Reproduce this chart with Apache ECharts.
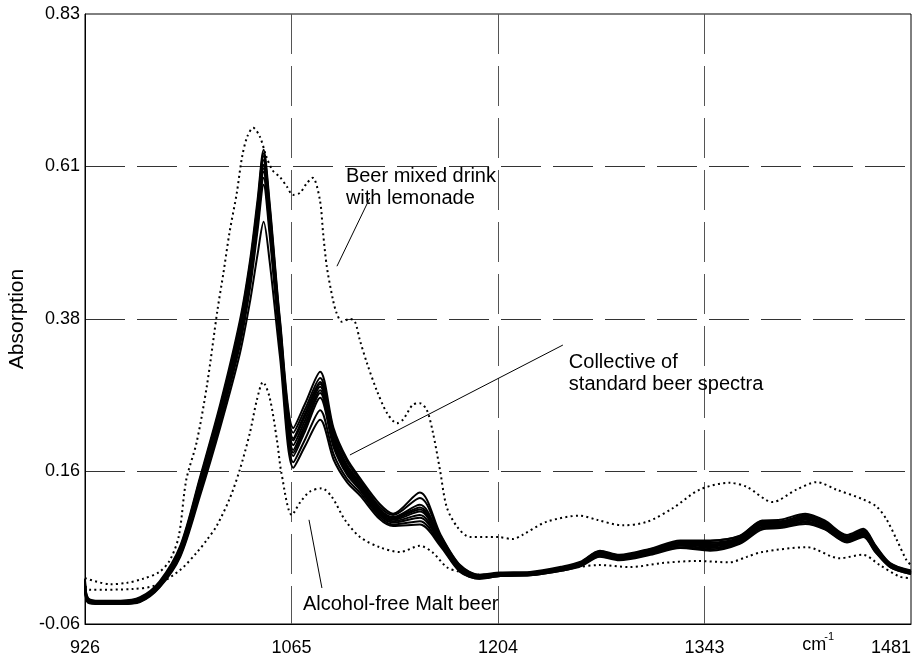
<!DOCTYPE html>
<html>
<head>
<meta charset="utf-8">
<script src="https://cdn.jsdelivr.net/npm/echarts@6/dist/echarts.min.js"></script>
<style>
  html, body { margin: 0; padding: 0; background: #fff; }
  #chart { width: 912px; height: 655px; }
</style>
</head>
<body>
<div id="chart"></div>
<script>
// tick labels (printed labels, evenly spaced along each axis)
const xTickLabels = ['926', '1065', '1204', '1343', '1481'];
const yTickLabels = ['-0.06', '0.16', '0.38', '0.61', '0.83'];

// wavenumbers (cm-1) shared by the standard beer spectra
const standardWavenumbers = [926, 928, 936, 950, 963, 976, 990, 1003, 1017, 1030, 1037, 1042, 1046, 1050,
  1057, 1066, 1074, 1084, 1093, 1102, 1111, 1124, 1133, 1151, 1165, 1178, 1191, 1205, 1225, 1247,
  1259, 1272, 1285, 1306, 1326, 1346, 1366, 1381, 1393, 1410, 1423, 1438, 1449, 1457, 1467, 1481];

// collective of standard beer spectra (absorption)
const beer1 = [0.006, -0.022, -0.026, -0.026, -0.021, 0.002, 0.054, 0.152, 0.262, 0.382, 0.472, 0.560, 0.632, 0.556, 0.384, 0.226, 0.262, 0.308, 0.226, 0.181, 0.152, 0.115, 0.101, 0.132, 0.070, 0.026, 0.012, 0.015, 0.016, 0.024, 0.031, 0.047, 0.041, 0.050, 0.062, 0.062, 0.069, 0.091, 0.092, 0.101, 0.091, 0.070, 0.079, 0.055, 0.029, 0.018];
const beer2 = [0.004, -0.023, -0.027, -0.027, -0.022, 0.000, 0.052, 0.149, 0.258, 0.377, 0.467, 0.553, 0.627, 0.550, 0.380, 0.219, 0.254, 0.299, 0.221, 0.177, 0.149, 0.111, 0.099, 0.124, 0.068, 0.025, 0.011, 0.014, 0.015, 0.023, 0.030, 0.046, 0.040, 0.049, 0.060, 0.061, 0.068, 0.090, 0.090, 0.099, 0.089, 0.068, 0.077, 0.054, 0.028, 0.017];
const beer3 = [0.002, -0.024, -0.027, -0.028, -0.023, -0.001, 0.050, 0.147, 0.256, 0.373, 0.462, 0.549, 0.623, 0.545, 0.375, 0.211, 0.248, 0.293, 0.216, 0.172, 0.146, 0.108, 0.096, 0.114, 0.066, 0.023, 0.010, 0.013, 0.014, 0.022, 0.029, 0.045, 0.039, 0.048, 0.059, 0.059, 0.066, 0.088, 0.088, 0.097, 0.087, 0.066, 0.075, 0.052, 0.027, 0.016];
const beer4 = [0.000, -0.025, -0.028, -0.028, -0.024, -0.002, 0.048, 0.145, 0.253, 0.370, 0.459, 0.546, 0.617, 0.540, 0.372, 0.208, 0.244, 0.290, 0.213, 0.170, 0.144, 0.106, 0.095, 0.110, 0.064, 0.022, 0.009, 0.013, 0.014, 0.022, 0.029, 0.044, 0.038, 0.047, 0.058, 0.058, 0.065, 0.087, 0.087, 0.096, 0.086, 0.065, 0.074, 0.051, 0.026, 0.016];
const beer5 = [-0.003, -0.025, -0.028, -0.029, -0.024, -0.002, 0.047, 0.142, 0.250, 0.366, 0.455, 0.541, 0.610, 0.535, 0.368, 0.201, 0.238, 0.286, 0.210, 0.167, 0.142, 0.105, 0.094, 0.107, 0.062, 0.021, 0.009, 0.012, 0.013, 0.021, 0.028, 0.043, 0.037, 0.046, 0.057, 0.056, 0.064, 0.086, 0.086, 0.095, 0.085, 0.064, 0.073, 0.050, 0.026, 0.015];
const beer6 = [-0.004, -0.026, -0.029, -0.029, -0.025, -0.003, 0.045, 0.139, 0.247, 0.362, 0.450, 0.536, 0.605, 0.530, 0.364, 0.194, 0.232, 0.281, 0.206, 0.164, 0.140, 0.103, 0.092, 0.104, 0.061, 0.020, 0.008, 0.012, 0.013, 0.021, 0.027, 0.042, 0.037, 0.045, 0.056, 0.055, 0.063, 0.085, 0.085, 0.094, 0.084, 0.063, 0.072, 0.049, 0.025, 0.015];
const beer7 = [-0.005, -0.026, -0.029, -0.030, -0.025, -0.004, 0.044, 0.137, 0.244, 0.358, 0.446, 0.531, 0.600, 0.525, 0.360, 0.190, 0.227, 0.277, 0.202, 0.161, 0.138, 0.101, 0.090, 0.099, 0.059, 0.019, 0.008, 0.011, 0.012, 0.020, 0.027, 0.041, 0.036, 0.044, 0.055, 0.053, 0.062, 0.084, 0.084, 0.092, 0.083, 0.062, 0.071, 0.048, 0.025, 0.014];
const beer8 = [-0.007, -0.027, -0.030, -0.030, -0.026, -0.005, 0.042, 0.134, 0.240, 0.353, 0.440, 0.524, 0.591, 0.518, 0.355, 0.185, 0.222, 0.270, 0.198, 0.158, 0.135, 0.099, 0.088, 0.095, 0.058, 0.018, 0.007, 0.011, 0.012, 0.019, 0.026, 0.040, 0.035, 0.043, 0.054, 0.051, 0.060, 0.082, 0.082, 0.090, 0.081, 0.061, 0.070, 0.047, 0.024, 0.014];
const beer9 = [-0.008, -0.028, -0.030, -0.031, -0.027, -0.006, 0.040, 0.130, 0.235, 0.346, 0.432, 0.515, 0.581, 0.509, 0.348, 0.176, 0.210, 0.252, 0.188, 0.152, 0.131, 0.096, 0.085, 0.090, 0.055, 0.017, 0.006, 0.010, 0.011, 0.018, 0.025, 0.039, 0.034, 0.042, 0.052, 0.049, 0.058, 0.080, 0.081, 0.088, 0.079, 0.060, 0.068, 0.046, 0.023, 0.013];
const beer10 = [-0.010, -0.029, -0.031, -0.031, -0.028, -0.007, 0.038, 0.125, 0.228, 0.334, 0.412, 0.480, 0.527, 0.470, 0.330, 0.168, 0.200, 0.238, 0.180, 0.147, 0.127, 0.093, 0.083, 0.085, 0.053, 0.016, 0.006, 0.010, 0.011, 0.018, 0.024, 0.038, 0.033, 0.041, 0.051, 0.047, 0.057, 0.078, 0.080, 0.086, 0.078, 0.059, 0.067, 0.045, 0.023, 0.013];
const standardSpectra = [beer1, beer2, beer3, beer4, beer5, beer6, beer7, beer8, beer9, beer10];

// beer mixed drink with lemonade (upper dotted)
const lemonadeWavenumbers = [926, 943, 954, 965, 976, 983, 989, 994, 1001, 1008, 1015, 1019, 1023, 1028, 1031.5, 1035,
  1039, 1043.5, 1048, 1052, 1057, 1061.7, 1065.7, 1070.4, 1075, 1079, 1083.8, 1086, 1088.5, 1092.6, 1095, 1098.6,
  1104, 1107.4, 1110.7, 1115.4, 1122, 1128.9, 1135.6, 1139.6, 1146.3, 1151, 1155.7, 1159.8, 1164.5, 1169, 1176,
  1184.6, 1202.7, 1213.5, 1220, 1236, 1258.5, 1270, 1287, 1303.5, 1321, 1339, 1359, 1370.7, 1388, 1404, 1417.7,
  1431, 1448.6, 1458, 1464.7, 1471.4, 1478, 1481];
const lemonadeAbsorption = [0.007, -0.002, 0.000, 0.006, 0.016, 0.033, 0.068, 0.150, 0.205, 0.289, 0.398, 0.452, 0.510, 0.569, 0.621, 0.651,
  0.664, 0.651, 0.621, 0.602, 0.592, 0.578, 0.566, 0.569, 0.583, 0.591, 0.559, 0.510, 0.461, 0.413, 0.394, 0.381,
  0.385, 0.381, 0.354, 0.321, 0.281, 0.248, 0.233, 0.238, 0.260, 0.262, 0.252, 0.219, 0.165, 0.111, 0.082,
  0.067, 0.067, 0.064, 0.070, 0.089, 0.098, 0.092, 0.084, 0.089, 0.109, 0.136, 0.146, 0.140, 0.118, 0.136, 0.147,
  0.136, 0.122, 0.111, 0.092, 0.063, 0.033, 0.026];

// alcohol-free malt beer (lower dotted)
const maltWavenumbers = [926, 929.4, 958, 974, 990, 1001, 1008, 1014.7, 1023.4, 1030, 1036.8, 1041.5, 1045.6, 1050, 1055,
  1058, 1065, 1070.4, 1077, 1085, 1092, 1100.6, 1110.7, 1124, 1137.6, 1151, 1159.8, 1169, 1178, 1191, 1213.5,
  1236, 1254, 1272, 1292, 1314, 1337, 1359, 1370.7, 1381, 1411, 1433, 1448.6, 1460, 1473.5, 1481];
const maltAbsorption = [-0.005, -0.010, -0.009, -0.003, 0.019, 0.044, 0.063, 0.084, 0.124, 0.165, 0.219, 0.267, 0.293, 0.271, 0.208,
  0.160, 0.099, 0.117, 0.133, 0.138, 0.125, 0.092, 0.067, 0.052, 0.045, 0.054, 0.044, 0.023, 0.016, 0.012, 0.012,
  0.016, 0.022, 0.026, 0.023, 0.029, 0.032, 0.030, 0.038, 0.045, 0.052, 0.036, 0.041, 0.026, 0.009, 0.007];

const FONT = '"Liberation Sans", Arial, Helvetica, sans-serif';

const zip = (xs, ys) => xs.map((x, i) => [x, ys[i]]);

const chart = echarts.init(document.getElementById('chart'), null, { renderer: 'canvas' });

const dotted = (name, xs, ys) => ({
  name: name,
  type: 'line',
  data: zip(xs, ys),
  smooth: 0.3,
  symbol: 'none',
  silent: true,
  lineStyle: { color: '#000', width: 2, type: [2, 3.3], cap: 'butt' },
  z: 3,
});

const series = [
  dotted('Beer mixed drink with lemonade', lemonadeWavenumbers, lemonadeAbsorption),
  dotted('Alcohol-free Malt beer', maltWavenumbers, maltAbsorption),
].concat(standardSpectra.map((s, i) => ({
  name: 'Standard beer ' + (i + 1),
  type: 'line',
  data: zip(standardWavenumbers, s),
  smooth: 0.3,
  symbol: 'none',
  silent: true,
  lineStyle: { color: '#000', width: 2 },
  z: 4,
})));

const option = {
  animation: false,
  backgroundColor: '#fff',
  grid: {
    left: 85, right: 1, top: 14, bottom: 31,
    outerBoundsMode: 'none',
    show: true, borderColor: '#000', borderWidth: 1,
  },
  xAxis: [
    // data axis (wavenumber)
    {
      type: 'value', min: 926, max: 1481, position: 'bottom',
      axisLine: { show: false }, axisTick: { show: false },
      axisLabel: { show: false }, splitLine: { show: false },
    },
    // tick axis: evenly spaced printed labels
    {
      type: 'value', min: 0, max: 4, interval: 1, position: 'bottom',
      axisLine: { show: true, lineStyle: { color: '#000', width: 1 } },
      axisTick: { show: false },
      axisLabel: {
        color: '#000', fontFamily: FONT, fontSize: 18, margin: 15,
        alignMaxLabel: 'right',
        formatter: (v) => xTickLabels[Math.round(v)],
      },
      splitLine: {
        show: true, showMinLine: false, showMaxLine: false,
        lineStyle: { color: '#555', width: 1, type: [40, 12] },
      },
    },
  ],
  yAxis: [
    {
      type: 'value', min: -0.06, max: 0.83, position: 'left',
      axisLine: { show: false }, axisTick: { show: false },
      axisLabel: { show: false }, splitLine: { show: false },
    },
    {
      type: 'value', min: 0, max: 4, interval: 1, position: 'left',
      name: 'Absorption', nameLocation: 'middle', nameGap: 56,
      nameTextStyle: { color: '#000', fontFamily: FONT, fontSize: 21 },
      axisLine: { show: true, lineStyle: { color: '#000', width: 1 } },
      axisTick: { show: false },
      axisLabel: {
        color: '#000', fontFamily: FONT, fontSize: 18, margin: 5,
        formatter: (v) => yTickLabels[Math.round(v)],
      },
      splitLine: {
        show: true, showMinLine: false, showMaxLine: false,
        lineStyle: { color: '#333', width: 1, type: [40, 12] },
      },
    },
  ],
  series: series,
};

chart.setOption(option);

// annotations, anchored in data coordinates (wavenumber, absorption)
const annotations = [
  { text: 'Beer mixed drink\nwith lemonade', at: [1101.3, 0.6097], from: [1095.3, 0.462], to: [1117.4, 0.5615] },
  { text: 'Collective of\nstandard beer spectra', at: [1251.1, 0.3383], from: [1104, 0.1866], to: [1247.1, 0.347] },
  { text: 'Alcohol-free Malt beer', at: [1072.4, -0.0148], from: [1076.5, 0.092], to: [1085.2, -0.0075] },
];

const px = (p) => chart.convertToPixel({ seriesIndex: 0 }, p);
const graphics = [];
annotations.forEach((a) => {
  const t = px(a.at);
  const p1 = px(a.from);
  const p2 = px(a.to);
  graphics.push({
    type: 'line', silent: true, z: 10,
    shape: { x1: p1[0], y1: p1[1], x2: p2[0], y2: p2[1] },
    style: { stroke: '#000', lineWidth: 1 },
  });
  graphics.push({
    type: 'text', silent: true, z: 10, x: t[0], y: t[1],
    style: { text: a.text, fill: '#000', font: '20px ' + FONT, lineHeight: 22, align: 'left', verticalAlign: 'top' },
  });
});

// axis unit cm^-1 next to the last tick label
const unit = px([1408, -0.06]);
graphics.push({
  type: 'text', silent: true, x: unit[0], y: unit[1] + 21,
  style: { text: 'cm', fill: '#000', font: '18px ' + FONT, align: 'left', verticalAlign: 'middle' },
});
graphics.push({
  type: 'text', silent: true, x: unit[0] + 22, y: unit[1] + 13,
  style: { text: '-1', fill: '#000', font: '11px ' + FONT, align: 'left', verticalAlign: 'middle' },
});

chart.setOption({ graphic: graphics });
</script>
</body>
</html>
